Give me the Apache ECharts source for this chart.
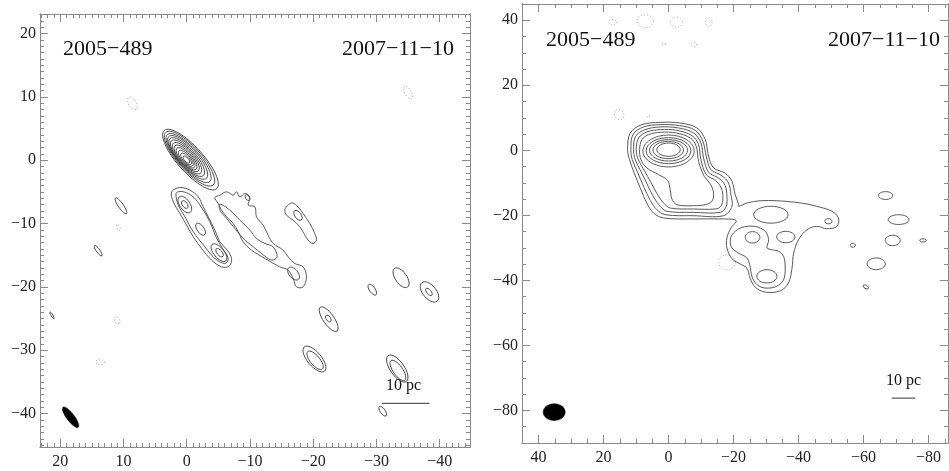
<!DOCTYPE html>
<html><head><meta charset="utf-8">
<script src="https://cdn.jsdelivr.net/npm/echarts@6/dist/echarts.min.js"></script>
<style>html,body{margin:0;padding:0;background:#fff}#c{width:949px;height:471px}</style>
</head><body><div id="c"></div><script>
// ---------- tick values ----------
const leftXMajor = [-40, -30, -20, -10, 0, 10, 20];
const leftYMajor = [-40, -30, -20, -10, 0, 10, 20];
const rightXMajor = [-80, -60, -40, -20, 0, 20, 40];
const rightYMajor = [-80, -60, -40, -20, 0, 20, 40];
const panelLabels = ['2005\u2212489', '2007\u221211\u221210'];
const scaleText = '10 pc';

// ---------- left panel contours (mas) ----------
// ellipses: [cx, cy, semi-major, semi-minor, angle(deg, data space)]
const leftCore = [
  [-0.6, 0.1, 6.2, 2.0, 48], [-0.45, 0.25, 5.6, 1.82, 48], [-0.3, 0.35, 5.0, 1.65, 48],
  [-0.15, 0.45, 4.45, 1.5, 48], [0.0, 0.5, 3.95, 1.36, 48], [0.1, 0.52, 3.45, 1.22, 48],
  [0.15, 0.5, 2.95, 1.08, 48], [0.18, 0.45, 2.5, 0.94, 48], [0.18, 0.38, 2.05, 0.8, 48],
  [0.15, 0.3, 1.6, 0.65, 48], [0.1, 0.2, 1.15, 0.5, 48], [0.05, 0.1, 0.7, 0.32, 48]
];
const leftEllipses = [
  [0.3, -7.0, 1.5, 0.8, 55], [0.3, -7.0, 0.7, 0.4, 55], [-2.2, -10.9, 1.1, 0.55, 55],
  [-5.1, -14.6, 1.7, 0.8, 50], [-5.2, -14.6, 0.8, 0.4, 50], [-16.9, -17.9, 1.2, 0.7, 50],
  [-9.6, -5.9, 0.5, 0.3, 60], [-17.6, -8.7, 0.9, 0.5, 55],
  [10.4, -7.2, 1.5, 0.4, 55], [14.0, -14.3, 1.0, 0.28, 55], [21.3, -24.5, 0.6, 0.15, 60],
  [-22.45, -25.1, 2.3, 0.85, 55], [-22.4, -25.0, 0.6, 0.35, 55],
  [-20.2, -31.4, 2.5, 1.1, 50], [-20.3, -31.6, 1.8, 0.75, 50],
  [-29.35, -20.45, 1.0, 0.45, 55], [-33.9, -18.56, 1.8, 0.9, 55],
  [-38.4, -20.8, 1.9, 1.05, 50], [-38.3, -20.8, 0.7, 0.35, 50],
  [-33.3, -32.9, 2.5, 1.1, 55], [-33.4, -33.2, 1.9, 0.75, 55],
  [-31.0, -39.65, 0.9, 0.4, 55]
];
const leftNegative = [
  [10.8, -10.6, 0.5, 0.25, 60], [8.6, 9.0, 1.1, 0.6, 60], [11.0, -25.3, 0.6, 0.4, 60],
  [13.7, -31.9, 0.7, 0.4, 0], [-35.0, 10.7, 1.1, 0.5, 60]
];
const leftBeam = [[18.36, -40.6, 2.0, 0.6, 53]];
// irregular contours: lists of [x, y]
const leftChainOuter = [[2.38,-4.99],[2.12,-6.57],[1.06,-8.42],[0.01,-10.26],[-1.04,-12.1],[-2.36,-13.94],[-3.94,-15.78],[-5.51,-16.84],[-6.72,-16.73],[-7.09,-15.52],[-6.41,-14.2],[-5.25,-12.89],[-4.46,-11.05],[-3.41,-8.94],[-2.62,-7.36],[-1.83,-5.78],[-0.51,-4.73],[1.06,-4.31]];
const leftChainInner = [[1.7,-5.26],[1.33,-7.1],[0.27,-8.94],[-1.04,-11.31],[-2.88,-13.68],[-4.46,-15.52],[-6.04,-16.31],[-6.57,-15.52],[-5.67,-13.94],[-4.62,-12.1],[-3.67,-9.73],[-2.62,-7.89],[-1.3,-6.05],[0.0,-5.15],[1.17,-4.94]];
const leftJetOuter = [[-5.25,-5.52],[-6.3,-4.99],[-7.36,-5.52],[-7.88,-4.99],[-8.41,-5.78],[-9.2,-5.26],[-9.99,-5.89],[-9.73,-7.1],[-10.78,-7.36],[-11.04,-8.94],[-12.09,-10.26],[-12.88,-11.84],[-13.67,-13.15],[-15.25,-14.2],[-16.04,-15.26],[-17.09,-16.31],[-18.41,-16.84],[-18.94,-18.42],[-18.41,-20.0],[-17.36,-20.0],[-16.83,-18.68],[-16.04,-17.36],[-14.72,-16.84],[-12.36,-15.52],[-10.25,-14.2],[-8.94,-12.89],[-8.15,-11.31],[-7.36,-9.99],[-6.3,-8.94],[-5.51,-7.89],[-4.99,-6.84],[-4.46,-5.89]];
const leftJetInner = [[-5.25,-6.94],[-6.83,-7.89],[-8.41,-9.47],[-9.99,-11.05],[-11.04,-12.36],[-12.36,-13.15],[-13.67,-13.68],[-14.3,-15.26],[-13.41,-15.78],[-11.83,-14.73],[-10.52,-13.68],[-8.94,-12.36],[-7.62,-10.78],[-6.3,-9.2],[-5.25,-7.89]];
const leftKnot = [[-15.78,-7.36],[-16.57,-6.73],[-17.36,-7.1],[-18.41,-8.42],[-19.46,-10.0],[-20.25,-11.57],[-20.51,-12.63],[-19.99,-13.15],[-19.2,-12.63],[-17.88,-10.52],[-16.83,-9.47],[-15.78,-8.68],[-15.51,-7.89]];
const leftScaleBar = [[-30.85, -38.4], [-38.4, -38.4]];

// ---------- right panel contours (mas) ----------
const rightCore = [
  [0.0, 0.2, 3.6, 2.05, 0], [0.1, 0.1, 4.7, 2.67, 0], [0.0, 0.0, 5.85, 3.3, 0],
  [0.0, -0.1, 6.9, 4.0, 0], [0.0, -0.2, 7.9, 4.9, 0]
];
const rightEllipses = [
  [-31.5, -19.8, 5.3, 2.6, 0], [-36.1, -26.65, 2.8, 1.75, 0], [-49.2, -21.8, 1.1, 0.8, 0],
  [-25.85, -26.75, 2.25, 1.75, 0], [-30.26, -38.75, 3.1, 2.05, 0],
  [-66.8, -13.9, 2.2, 1.2, 0], [-70.8, -21.3, 3.2, 1.5, 0], [-69.0, -27.7, 2.3, 1.6, 0],
  [-78.3, -27.7, 1.0, 0.5, 0], [-56.7, -29.2, 0.8, 0.6, 0], [-63.9, -34.9, 2.8, 1.8, 0],
  [-60.7, -42.0, 0.9, 0.5, 30]
];
const rightNegative = [
  [-18.0, -34.4, 2.6, 2.3, 0], [17.2, 39.4, 1.2, 0.9, 0], [7.2, 39.7, 2.5, 2.0, 0],
  [-2.4, 39.4, 1.8, 1.6, 0], [1.5, 32.7, 0.5, 0.5, 0], [-7.9, 32.5, 0.9, 0.7, 0],
  [-12.4, 39.4, 1.0, 1.3, 0], [15.2, 11.0, 1.6, 1.4, 60], [6.2, 10.4, 0.4, 0.4, 0]
];
const rightBeam = [[35.2, -80.5, 3.4, 2.6, 0]];
const rightEnv1 = [[12.6,0.2],[11.8,5.3],[8.2,7.9],[2.55,8.6],[-3.6,8.4],[-8.7,6.9],[-11.3,3.3],[-12.3,-1.8],[-13.85,-5.4],[-17.4,-7.0],[-19.5,-9.5],[-20.5,-13.6],[-21.5,-16.4],[-21.55,-17.2],[-24.1,-16.2],[-28.2,-15.5],[-33.3,-15.5],[-38.5,-15.9],[-42.6,-16.5],[-46.7,-17.5],[-50.3,-18.75],[-52.3,-20.8],[-51.8,-23.4],[-48.7,-24.1],[-45.65,-23.4],[-42.6,-24.4],[-40.0,-27.5],[-38.5,-31.6],[-38.0,-36.2],[-36.9,-40.8],[-34.4,-43.2],[-29.75,-43.6],[-26.7,-42.1],[-25.1,-39.3],[-24.1,-36.2],[-22.1,-35.0],[-19.5,-33.3],[-17.95,-30.0],[-17.95,-26.96],[-19.2,-23.9],[-20.8,-21.6],[-16.9,-21.1],[-7.7,-21.1],[1.5,-20.8],[4.6,-19.3],[6.7,-16.2],[8.7,-11.6],[10.56,-7.0],[12.0,-2.9]];
const rightEnv2 = [[11.58,0.21],[10.97,4.83],[7.68,7.19],[2.56,7.9],[-3.39,7.6],[-8.21,6.16],[-10.57,2.78],[-11.6,-1.84],[-13.03,-5.94],[-16.42,-7.79],[-18.47,-10.04],[-19.19,-13.63],[-19.5,-17.22],[-16.93,-20.1],[-7.7,-20.1],[1.02,-19.79],[3.58,-18.25],[5.63,-15.38],[7.68,-11.07],[9.53,-6.76],[11.17,-2.87]];
const rightEnv3 = [[10.76,0.21],[10.15,4.31],[7.17,6.37],[2.56,7.19],[-3.09,6.88],[-7.7,5.34],[-9.96,2.26],[-10.78,-2.35],[-12.32,-6.76],[-15.39,-8.5],[-17.44,-10.86],[-17.96,-14.15],[-17.75,-17.22],[-15.91,-19.07],[-7.7,-19.07],[0.5,-18.76],[2.56,-17.22],[4.61,-14.35],[6.66,-10.25],[8.5,-6.45],[10.25,-2.87]];
const rightEnv4 = [[9.94,0.21],[9.22,3.8],[6.66,5.65],[2.56,6.37],[-2.57,6.16],[-7.19,4.52],[-9.24,1.75],[-9.96,-2.87],[-11.6,-7.48],[-14.37,-9.22],[-16.21,-11.58],[-16.73,-14.66],[-16.11,-17.22],[-14.37,-18.04],[-7.7,-18.04],[-0.52,-17.74],[1.53,-16.2],[3.38,-13.63],[5.43,-9.84],[7.48,-6.15],[9.32,-2.87]];
const rightEnv5 = [[8.91,0.21],[8.2,3.29],[6.15,4.83],[2.56,5.55],[-2.37,5.34],[-6.68,3.8],[-8.52,1.24],[-9.24,-3.38],[-10.98,-7.99],[-12.83,-10.25],[-13.85,-13.12],[-13.34,-15.69],[-11.29,-16.71],[-7.7,-17.02],[-2.57,-16.71],[-1.03,-14.97],[-0.52,-12.1],[0.3,-9.22],[3.07,-7.48],[6.66,-5.43],[8.5,-2.87]];
const rightKnots = [[-20.0,-25.4],[-22.6,-23.7],[-26.7,-23.4],[-29.75,-24.9],[-30.8,-27.5],[-30.3,-30.0],[-31.8,-30.55],[-33.85,-31.05],[-35.4,-32.6],[-35.9,-36.2],[-35.4,-39.8],[-33.3,-41.8],[-29.75,-42.35],[-27.2,-41.3],[-25.65,-38.75],[-25.1,-35.7],[-24.1,-33.1],[-21.55,-31.6],[-19.5,-30.0],[-19.0,-27.5]];
const rightScaleBar = [[-68.7, -76.2], [-75.9, -76.2]];

// ---------- helpers ----------
function range(a, b, step) { const r = []; for (let v = a; v <= b + 1e-9; v += step) r.push(v); return r; }
const FONT = 'Liberation Serif';
const AXIS_COLOR = '#8a8a8a';
const LINE_COLOR = '#3c3c3c';
const fmt = v => String(v).replace('-', '\u2212');

function axisSet(gridIndex, min, max, major, minor, side, mirror, inverse, margin) {
  const base = {
    type: 'value', gridIndex, min, max, inverse,
    splitLine: { show: false },
    axisLine: { show: true, onZero: false, lineStyle: { color: AXIS_COLOR, width: 1 } }
  };
  const mk = (pos, vals, len, labels) => Object.assign({}, base, {
    position: pos,
    axisTick: { show: true, inside: true, length: len, customValues: vals, lineStyle: { color: AXIS_COLOR, width: 1 } },
    axisLabel: labels ? { show: true, customValues: major, formatter: fmt, margin, fontFamily: FONT, fontSize: 16, color: '#222' } : { show: false }
  });
  return [mk(side, major, 8, true), mk(side, minor, 4, false), mk(mirror, major, 8, false), mk(mirror, minor, 4, false)];
}

function ellipseSeries(data, xi, yi, style) {
  return {
    type: 'custom', xAxisIndex: xi, yAxisIndex: yi, silent: true, animation: false,
    data: data,
    renderItem: function (params, api) {
      const c = api.coord([api.value(0), api.value(1)]);
      const s = api.size([api.value(2), api.value(3)]);
      return {
        type: 'ellipse', x: c[0], y: c[1], rotation: (180 - api.value(4)) * Math.PI / 180,
        shape: { cx: 0, cy: 0, rx: s[0], ry: s[1] }, style: style
      };
    }
  };
}
function polySeries(polys, xi, yi, style) {
  return {
    type: 'custom', xAxisIndex: xi, yAxisIndex: yi, silent: true, animation: false,
    data: polys.map((p, i) => [p[0][0], p[0][1], i]),
    renderItem: function (params, api) {
      const pts = polys[params.dataIndex].map(p => api.coord(p));
      return { type: 'polygon', shape: { points: pts, smooth: 0.35 }, style: style };
    }
  };
}
const solid = { fill: null, stroke: LINE_COLOR, lineWidth: 0.85 };
const dotted = { fill: null, stroke: '#9a9a9a', lineWidth: 0.8, lineDash: [1, 2] };
const filled = { fill: '#000', stroke: '#000', lineWidth: 0.5 };

const xAxes = [].concat(
  axisSet(0, -44.8, 23.2, leftXMajor, range(-44, 23, 1), 'bottom', 'top', true, 7),
  axisSet(1, -86, 45.1, rightXMajor, range(-85, 45, 5), 'bottom', 'top', true, 7)
);
const yAxes = [].concat(
  axisSet(0, -45.3, 23.1, leftYMajor, range(-45, 23, 1), 'left', 'right', false, 4),
  axisSet(1, -90, 45, rightYMajor, range(-90, 45, 5), 'left', 'right', false, 4)
);

const chart = echarts.init(document.getElementById('c'), null, { renderer: 'canvas' });
chart.setOption({
  backgroundColor: '#fff',
  animation: false,
  grid: [
    { left: 40, top: 14, width: 430, height: 433, containLabel: false },
    { left: 522, top: 4, width: 426, height: 439, containLabel: false }
  ],
  xAxis: xAxes,
  yAxis: yAxes,
  series: [
    ellipseSeries(leftCore, 0, 0, solid),
    ellipseSeries(leftEllipses, 0, 0, solid),
    ellipseSeries(leftNegative, 0, 0, dotted),
    ellipseSeries(leftBeam, 0, 0, filled),
    polySeries([leftChainOuter, leftChainInner, leftJetOuter, leftJetInner, leftKnot], 0, 0, solid),
    { type: 'line', xAxisIndex: 0, yAxisIndex: 0, data: leftScaleBar, showSymbol: false, silent: true,
      lineStyle: { color: '#333', width: 1 } },
    ellipseSeries(rightCore, 4, 4, solid),
    ellipseSeries(rightEllipses, 4, 4, solid),
    ellipseSeries(rightNegative, 4, 4, dotted),
    ellipseSeries(rightBeam, 4, 4, filled),
    polySeries([rightEnv1, rightEnv2, rightEnv3, rightEnv4, rightEnv5, rightKnots], 4, 4, solid),
    { type: 'line', xAxisIndex: 4, yAxisIndex: 4, data: rightScaleBar, showSymbol: false, silent: true,
      lineStyle: { color: '#333', width: 1 } }
  ],
  graphic: [
    { type: 'text', left: 63, top: 38, style: { text: panelLabels[0], fontFamily: FONT, fontSize: 22, fill: '#111' } },
    { type: 'text', right: 949 - 454, top: 38, style: { text: panelLabels[1], fontFamily: FONT, fontSize: 22, fill: '#111' } },
    { type: 'text', left: 546, top: 29, style: { text: panelLabels[0], fontFamily: FONT, fontSize: 22, fill: '#111' } },
    { type: 'text', right: 9, top: 29, style: { text: panelLabels[1], fontFamily: FONT, fontSize: 22, fill: '#111' } },
    { type: 'text', left: 386, top: 378, style: { text: scaleText, fontFamily: FONT, fontSize: 16, fill: '#111' } },
    { type: 'text', left: 886, top: 373, style: { text: scaleText, fontFamily: FONT, fontSize: 16, fill: '#111' } }
  ]
});
</script></body></html>
